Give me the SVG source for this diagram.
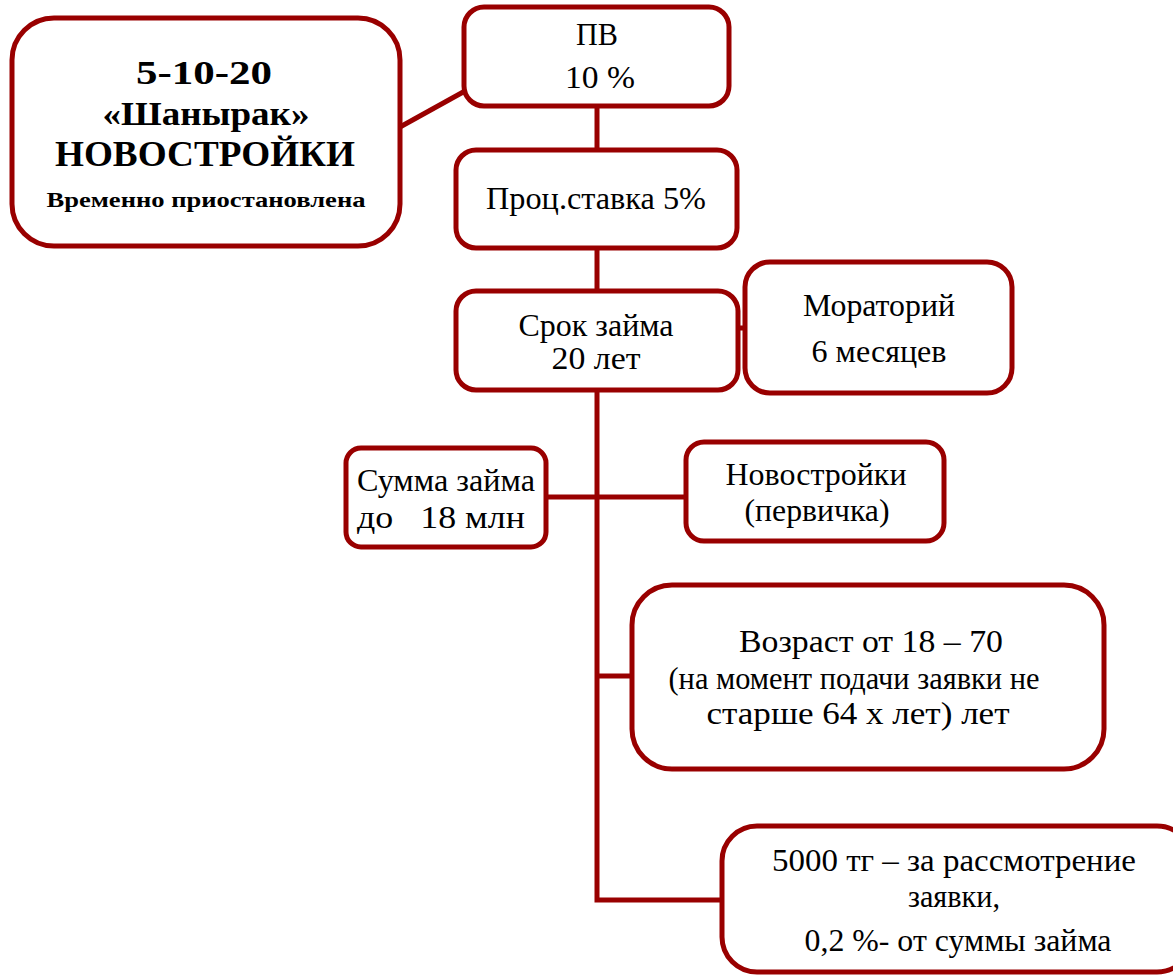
<svg xmlns="http://www.w3.org/2000/svg" width="1173" height="975" viewBox="0 0 1173 975">
<style>
.box{fill:#fff;stroke:#990000;stroke-width:5}
.ln{fill:none;stroke:#990000;stroke-width:5}
.t{font-size:31px}
</style>
<rect width="1173" height="975" fill="#fff"/>
<g id="connectors">
<line class="ln" x1="400" y1="127" x2="465" y2="91"/>
<line class="ln" x1="597" y1="106" x2="597" y2="150"/>
<line class="ln" x1="597" y1="248" x2="597" y2="291"/>
<polyline class="ln" points="597,390 597,900 722,900"/>
<line class="ln" x1="738" y1="328" x2="745" y2="328"/>
<line class="ln" x1="546" y1="497" x2="686" y2="497"/>
<line class="ln" x1="597" y1="676" x2="632" y2="676"/>
</g>
<g font-family="'Liberation Serif', 'DejaVu Serif', serif" text-anchor="middle" fill="#000" lengthAdjust="spacingAndGlyphs">
<g id="main">
<rect class="box" x="12" y="18" width="388" height="228" rx="42"/>
<text font-weight="bold" x="204" y="84" font-size="33" textLength="136" lengthAdjust="spacingAndGlyphs">5-10-20</text>
<text font-weight="bold" x="206" y="125" font-size="34" textLength="207" lengthAdjust="spacingAndGlyphs">«Шанырак»</text>
<text font-weight="bold" x="205" y="166" font-size="36" textLength="300" lengthAdjust="spacingAndGlyphs">НОВОСТРОЙКИ</text>
<text font-weight="bold" x="206" y="207" font-size="21" textLength="319" lengthAdjust="spacingAndGlyphs">Временно приостановлена</text>
</g>
<g id="pv">
<rect class="box" x="464" y="7" width="265" height="99" rx="20"/>
<text class="t" x="597" y="45" textLength="42" lengthAdjust="spacingAndGlyphs">ПВ</text>
<text class="t" x="600" y="88" textLength="70" lengthAdjust="spacingAndGlyphs">10 %</text>
</g>
<g id="rate">
<rect class="box" x="456" y="150" width="281" height="98" rx="20"/>
<text class="t" x="596" y="209" textLength="220" lengthAdjust="spacingAndGlyphs">Проц.ставка 5%</text>
</g>
<g id="term">
<rect class="box" x="456" y="291" width="282" height="99" rx="20"/>
<text class="t" x="596" y="336" textLength="155" lengthAdjust="spacingAndGlyphs">Срок займа</text>
<text class="t" x="596" y="369" textLength="89" lengthAdjust="spacingAndGlyphs">20 лет</text>
</g>
<g id="moratorium">
<rect class="box" x="745" y="262" width="267" height="131" rx="25"/>
<text class="t" x="879" y="316" textLength="152" lengthAdjust="spacingAndGlyphs">Мораторий</text>
<text class="t" x="879" y="362" textLength="135" lengthAdjust="spacingAndGlyphs">6 месяцев</text>
</g>
<g id="sum">
<rect class="box" x="346" y="448" width="200" height="99" rx="15"/>
<text class="t" x="446" y="491" textLength="178" lengthAdjust="spacingAndGlyphs">Сумма займа</text>
<text class="t" x="441" y="528" xml:space="preserve" textLength="168" lengthAdjust="spacingAndGlyphs">до   18 млн</text>
</g>
<g id="newbuild">
<rect class="box" x="686" y="442" width="258" height="99" rx="18"/>
<text class="t" x="816" y="485" textLength="181" lengthAdjust="spacingAndGlyphs">Новостройки</text>
<text class="t" x="817" y="521" textLength="145" lengthAdjust="spacingAndGlyphs">(первичка)</text>
</g>
<g id="age">
<rect class="box" x="632" y="585" width="472" height="184" rx="40"/>
<text class="t" x="871" y="652" textLength="264" lengthAdjust="spacingAndGlyphs">Возраст от 18 – 70</text>
<text class="t" x="854" y="689" textLength="371" lengthAdjust="spacingAndGlyphs">(на момент подачи заявки не</text>
<text class="t" x="858" y="724" textLength="303" lengthAdjust="spacingAndGlyphs">старше 64 х лет) лет</text>
</g>
<g id="fee">
<rect class="box" x="722" y="826" width="470" height="146" rx="35"/>
<text class="t" x="954" y="871" textLength="364" lengthAdjust="spacingAndGlyphs">5000 тг – за рассмотрение</text>
<text class="t" x="954" y="907" textLength="92" lengthAdjust="spacingAndGlyphs">заявки,</text>
<text class="t" x="958" y="951" textLength="307" lengthAdjust="spacingAndGlyphs">0,2 %- от суммы займа</text>
</g>
</g>
</svg>
